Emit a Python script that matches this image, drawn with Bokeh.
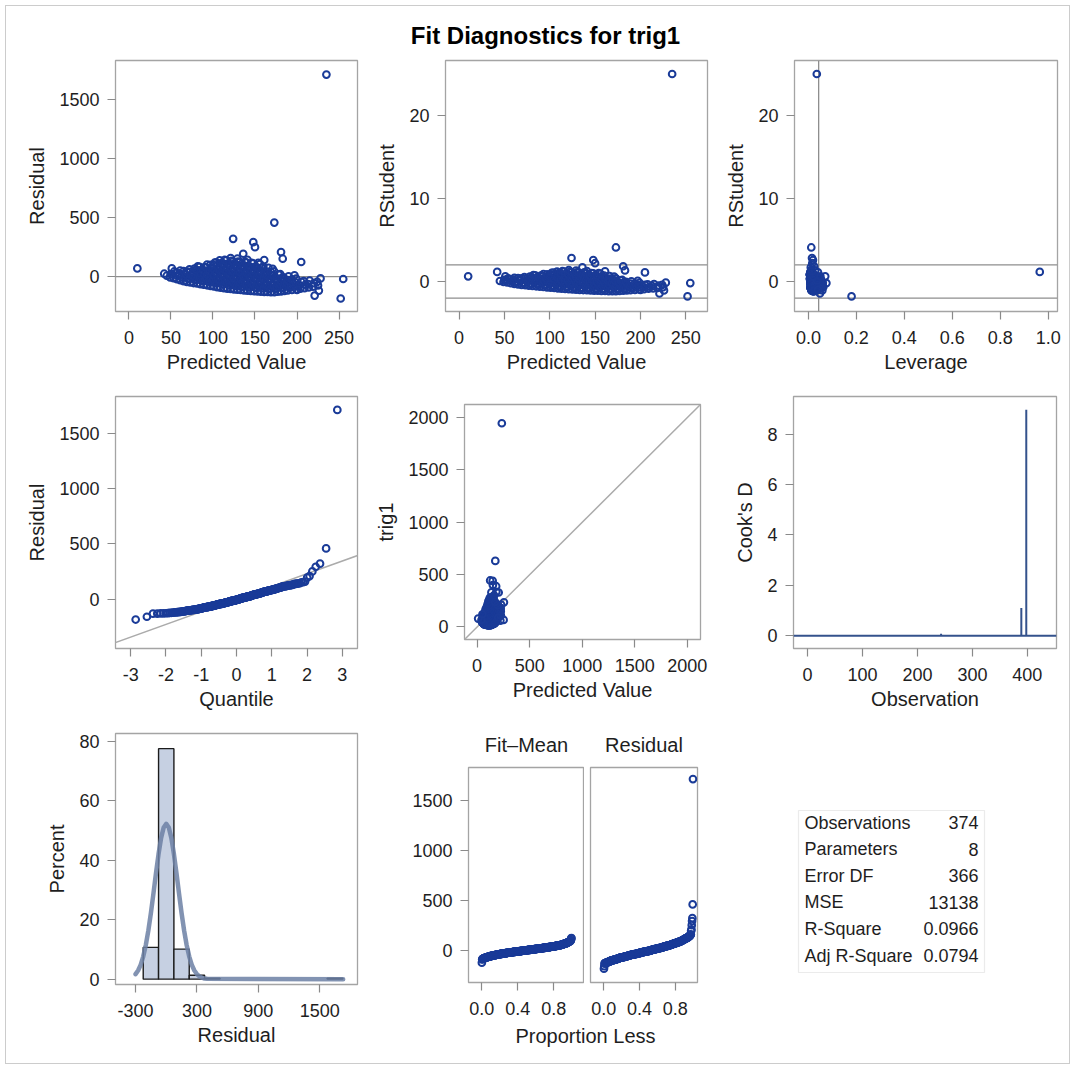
import math
from statistics import NormalDist
from bokeh.plotting import figure
from bokeh.layouts import row, column
from bokeh.models import Range1d, FixedTicker, PrintfTickFormatter, Span, Slope, BoxAnnotation
from bokeh.core.properties import value
from bokeh.embed import file_html
from bokeh.resources import INLINE

# ---------------- data ----------------
main_title = "Fit Diagnostics for trig1"

# observations (predicted value, residual, leverage); dense cloud then the stand-out points
pred = [
    45,
    49, 50,
    53, 52, 54,
    57, 58, 56,
    61, 62, 60, 61,
    65, 64, 66, 65,
    69, 70, 68, 69,
    73, 72, 74, 73, 72,
    77, 78, 76, 77, 78,
    81, 80, 82, 81, 80, 82,
    85, 86, 84, 85, 86, 84,
    89, 88, 90, 89, 88, 90,
    93, 94, 92, 93, 94, 92, 93,
    97, 96, 98, 97, 96, 98, 97,
    101, 102, 100, 101, 102, 100, 101, 102,
    105, 104, 106, 105, 104, 106, 105, 104,
    109, 110, 108, 109, 110, 108, 109, 110, 108,
    113, 112, 114, 113, 112, 114, 113, 112, 114,
    117, 118, 116, 117, 118, 116, 117, 118, 116,
    121, 120, 122, 121, 120, 122, 121, 120, 122, 121,
    125, 126, 124, 125, 126, 124, 125, 126, 124,
    129, 128, 130, 129, 128, 130, 129, 128, 130, 129,
    133, 134, 132, 133, 134, 132, 133, 134, 132,
    137, 136, 138, 137, 136, 138, 137, 136, 138,
    141, 142, 140, 141, 142, 140, 141, 142, 140, 141,
    145, 144, 146, 145, 144, 146, 145, 144, 146,
    149, 150, 148, 149, 150, 148, 149, 150, 148,
    153, 152, 154, 153, 152, 154, 153, 152, 154,
    157, 158, 156, 157, 158, 156, 157, 158, 156,
    161, 160, 162, 161, 160, 162, 161, 160,
    165, 166, 164, 165, 166, 164, 165, 166,
    169, 168, 170, 169, 168, 170, 169,
    173, 174, 172, 173, 174, 172, 173,
    177, 176, 178, 177, 176, 178,
    181, 182, 180, 181, 182, 180,
    185, 184, 186, 185, 184,
    189, 190, 188, 189, 190,
    194, 193, 195, 194,
    199, 200, 198, 199,
    204, 203, 205,
    209, 210, 208,
    214, 213, 215,
    219, 220,
    225, 224,
    235, 173, 124, 148, 150, 136, 181, 183, 205, 10, 255, 252, 221, 226, 228, 197, 171, 42, 51, 200, 161,
]
resid = [
    8,
    -6, 22,
    -12, 18, 44,
    -22, 6, 33,
    -30, -3, 27, 52,
    -38, -9, 22, 46,
    -44, -14, 16, 43,
    -49, -19, 11, 40, 62,
    -54, -24, 6, 36, 68,
    -58, -29, 2, 31, 60, 88,
    -64, -33, -4, 27, 56, 84,
    -68, -38, -8, 22, 52, 80,
    -73, -43, -12, 17, 48, 76, 102,
    -79, -48, -18, 13, 43, 72, 100,
    -83, -53, -22, 8, 38, 69, 97, 118,
    -88, -58, -27, 3, 33, 64, 92, 122,
    -93, -62, -32, -2, 28, 58, 88, 115, 138,
    -97, -67, -36, -6, 24, 54, 83, 112, 142,
    -101, -71, -40, -10, 20, 49, 79, 108, 137,
    -104, -74, -44, -14, 16, 46, 76, 104, 133, 158,
    -108, -78, -48, -18, 12, 42, 72, 101, 128,
    -111, -81, -51, -21, 9, 39, 68, 98, 127, 152,
    -113, -84, -54, -24, 6, 36, 66, 94, 124,
    -116, -86, -57, -27, 3, 33, 62, 92, 126,
    -118, -89, -59, -30, 0, 30, 59, 89, 118, 143,
    -121, -91, -62, -32, -3, 27, 56, 86, 116,
    -123, -94, -64, -35, -6, 24, 53, 83, 112,
    -125, -96, -67, -38, -8, 21, 50, 80, 117,
    -127, -98, -69, -40, -11, 18, 47, 77, 106,
    -129, -100, -71, -43, -14, 15, 44, 82,
    -130, -102, -73, -45, -16, 12, 41, 74,
    -132, -104, -75, -47, -19, 10, 38,
    -131, -102, -74, -45, -17, 11, 44,
    -128, -99, -71, -42, -14, 17,
    -124, -95, -67, -38, -10, 22,
    -120, -91, -62, -33, -5,
    -116, -87, -58, -29, 2,
    -112, -82, -53, -23,
    -107, -78, -48, -16,
    -102, -73, -43,
    -97, -68, -38,
    -92, -62, -33,
    -84, -54,
    -74, -44,
    1711, 458, 320, 292, 250, 194, 208, 152, 124, 70, -20, -185, -160, -118, -15, 11, 67, 25, 70, -112, 140,
]
lev = [
    0.051,
    0.048, 0.053,
    0.045, 0.047, 0.050,
    0.044, 0.046, 0.041,
    0.043, 0.040, 0.045, 0.038,
    0.041, 0.036, 0.039, 0.043,
    0.037, 0.034, 0.040, 0.035,
    0.035, 0.032, 0.036, 0.030, 0.033,
    0.031, 0.034, 0.029, 0.032, 0.028,
    0.030, 0.027, 0.031, 0.026, 0.029, 0.025,
    0.027, 0.024, 0.028, 0.023, 0.026, 0.022,
    0.025, 0.022, 0.026, 0.021, 0.024, 0.020,
    0.023, 0.020, 0.024, 0.019, 0.022, 0.018, 0.021,
    0.021, 0.018, 0.022, 0.017, 0.020, 0.016, 0.019,
    0.019, 0.016, 0.020, 0.015, 0.018, 0.014, 0.017, 0.013,
    0.018, 0.015, 0.019, 0.014, 0.017, 0.012, 0.016, 0.011,
    0.016, 0.013, 0.017, 0.012, 0.015, 0.011, 0.014, 0.010, 0.013,
    0.015, 0.012, 0.016, 0.011, 0.014, 0.010, 0.013, 0.009, 0.012,
    0.014, 0.011, 0.015, 0.010, 0.013, 0.009, 0.012, 0.008, 0.011,
    0.013, 0.010, 0.014, 0.009, 0.012, 0.008, 0.011, 0.007, 0.010, 0.012,
    0.012, 0.009, 0.013, 0.008, 0.011, 0.007, 0.010, 0.006, 0.009,
    0.012, 0.009, 0.013, 0.008, 0.011, 0.006, 0.010, 0.007, 0.009, 0.011,
    0.012, 0.009, 0.013, 0.008, 0.011, 0.007, 0.010, 0.006, 0.009,
    0.013, 0.010, 0.014, 0.009, 0.012, 0.008, 0.011, 0.007, 0.010,
    0.013, 0.010, 0.014, 0.009, 0.012, 0.008, 0.011, 0.007, 0.010, 0.012,
    0.014, 0.011, 0.015, 0.010, 0.013, 0.009, 0.012, 0.008, 0.011,
    0.015, 0.012, 0.016, 0.011, 0.014, 0.010, 0.013, 0.009, 0.012,
    0.016, 0.013, 0.017, 0.012, 0.015, 0.011, 0.014, 0.010, 0.013,
    0.017, 0.014, 0.018, 0.013, 0.016, 0.012, 0.015, 0.011, 0.014,
    0.018, 0.015, 0.019, 0.014, 0.017, 0.013, 0.016, 0.012,
    0.020, 0.017, 0.021, 0.016, 0.019, 0.015, 0.018, 0.014,
    0.021, 0.018, 0.022, 0.017, 0.020, 0.016, 0.019,
    0.023, 0.020, 0.024, 0.019, 0.022, 0.018, 0.021,
    0.025, 0.022, 0.026, 0.021, 0.024, 0.020,
    0.027, 0.024, 0.028, 0.023, 0.026, 0.022,
    0.029, 0.026, 0.030, 0.025, 0.028,
    0.031, 0.028, 0.032, 0.027, 0.030,
    0.034, 0.031, 0.035, 0.030,
    0.037, 0.034, 0.038, 0.033,
    0.041, 0.038, 0.042,
    0.045, 0.042, 0.046,
    0.050, 0.047, 0.051,
    0.056, 0.053,
    0.062, 0.059,
    0.035, 0.012, 0.015, 0.019, 0.016, 0.010, 0.024, 0.028, 0.040, 0.070, 0.075, 0.180, 0.048, 0.058, 0.060, 0.036, 0.020, 0.965, 0.050, 0.040, 0.015,
]

# Cook's D needles (observation number, value)
cook_obs = [5, 38, 71, 104, 140, 177, 212, 243, 276, 311, 347, 372, 389, 398]
cook_d = [0.01, 0.02, 0.01, 0.02, 0.01, 0.02, 0.01, 0.08, 0.02, 0.01, 0.02, 0.03, 1.10, 8.96]

# residual histogram (bin midpoints, percent) and the overlaid density curve
hist_mid = [-150, 0, 150, 300, 450, 1650]
hist_pct = [10.7, 77.5, 10.1, 1.3, 0.3, 0.3]
bin_width = 150
curve_x = [-300, -275, -250, -225, -200, -175, -150, -125, -100, -75, -50, -25, 0, 25, 50,
           75, 100, 125, 150, 175, 200, 225, 250, 275, 300, 325, 350, 375, 400, 1730]
curve_pct = [1.7, 2.9, 4.8, 7.6, 11.4, 16.3, 22.2, 28.8, 35.7, 42.1, 47.5, 51.0, 52.2, 51.0, 47.5,
             42.1, 35.7, 28.8, 22.2, 16.3, 11.4, 7.6, 4.8, 2.9, 1.7, 0.9, 0.5, 0.2, 0.1, 0.0]

# fit statistics table
stat_labels = ["Observations", "Parameters", "Error DF", "MSE", "R-Square", "Adj R-Square"]
stat_values = ["374", "8", "366", "13138", "0.0966", "0.0794"]

# tick values
ticks_pred = [0, 50, 100, 150, 200, 250]
ticks_resid = [0, 500, 1000, 1500]
ticks_rstud = [0, 10, 20]
ticks_lev = [0.0, 0.2, 0.4, 0.6, 0.8, 1.0]
ticks_quant = [-3, -2, -1, 0, 1, 2, 3]
ticks_obsd = [0, 500, 1000, 1500, 2000]
ticks_obsnum = [0, 100, 200, 300, 400]
ticks_cook = [0, 2, 4, 6, 8]
ticks_hist_x = [-300, 300, 900, 1500]
ticks_pct = [0, 20, 40, 60, 80]
ticks_prop = [0.0, 0.4, 0.8]

# ---------------- derived statistics ----------------
n_obs = int(stat_values[0])
n_par = int(stat_values[1])
err_df = int(stat_values[2])
mse = float(stat_values[3])
rmse = math.sqrt(mse)

rstud = []
for e, h in zip(resid, lev):
    s2 = (err_df * mse - e * e / (1 - h)) / (err_df - 1)
    rstud.append(e / math.sqrt(s2 * (1 - h)))
observed = [p + e for p, e in zip(pred, resid)]
n = len(resid)
nd = NormalDist()
res_sorted = sorted(resid)
qq_x = [nd.inv_cdf((i + 1 - 0.375) / (n + 0.25)) for i in range(n)]
prop = [(i + 0.5) / n for i in range(n)]
mean_pred = sum(pred) / n
fit_mean = sorted(p - mean_pred for p in pred)

# ---------------- styling ----------------
FONT = "Liberation Sans"
TXT = "#1e1e1e"
FRAME = "#a4a4a4"
TICK = "#8a8a8a"
REF = "#8e8e8e"
LIGHTREF = "#ababab"
MARK = "#1a3b98"


def panel(xr, yr, bl, fw, br, bt, fh, bb, xlabel, ylabel, xt, yt, xf="%d", yf="%d", title=None):
    p = figure(frame_width=fw, frame_height=fh, min_border_left=bl, min_border_right=br,
               min_border_top=bt, min_border_bottom=bb, x_range=Range1d(*xr), y_range=Range1d(*yr),
               output_backend="svg", toolbar_location=None, tools="", title=title)
    p.grid.visible = False
    p.outline_line_color = FRAME
    p.outline_line_width = 1.3
    p.background_fill_color = "white"
    p.border_fill_color = None
    for ax, lab, ticks, fmt in ((p.xaxis[0], xlabel, xt, xf), (p.yaxis[0], ylabel, yt, yf)):
        ax.ticker = FixedTicker(ticks=ticks)
        ax.formatter = PrintfTickFormatter(format=fmt)
        ax.axis_label = lab
        ax.axis_line_color = None
        ax.major_tick_line_color = TICK
        ax.major_tick_line_width = 1.2
        ax.major_tick_out = 8
        ax.major_tick_in = 0
        ax.minor_tick_line_color = None
        ax.major_label_text_font = FONT
        ax.major_label_text_font_size = "18px"
        ax.major_label_text_color = TXT
        ax.axis_label_text_font = FONT
        ax.axis_label_text_font_size = "20px"
        ax.axis_label_text_font_style = "normal"
        ax.axis_label_text_color = TXT
    p.xaxis[0].major_label_standoff = 11
    p.yaxis[0].major_label_standoff = 8
    p.xaxis[0].axis_label_standoff = 4
    p.yaxis[0].axis_label_standoff = 8
    if title is not None:
        p.title.align = "center"
        p.title.text_font = FONT
        p.title.text_font_size = "20px"
        p.title.text_font_style = "normal"
        p.title.text_color = TXT
        p.title.standoff = 23
    return p


def blank(w, h, xr, yr):
    p = figure(frame_width=w, frame_height=h, min_border=0, x_range=Range1d(*xr), y_range=Range1d(*yr),
               x_axis_type=None, y_axis_type=None, output_backend="svg", toolbar_location=None, tools="")
    p.outline_line_color = None
    p.background_fill_color = None
    p.border_fill_color = None
    p.grid.visible = False
    return p


def rings(p, x, y):
    p.scatter(x, y, marker="circle", size=6.7, fill_color=None, line_color=MARK, line_width=2)


# ---- title ----
tfig = blank(1074, 50, (0, 1074), (50, 0))
tfig.text(x=[545], y=[35], text=[main_title], text_font=value(FONT), text_font_size="24px",
          text_font_style="bold", text_align="center", text_baseline="middle", text_color="#000000")

# ---- row 1 ----
p1 = panel((-16, 272), (-295, 1830), 115, 242, 15, 10, 251, 71, "Predicted Value", "Residual",
           ticks_pred, ticks_resid)
p1.add_layout(Span(location=0, dimension="width", line_color=REF, line_width=1.3, level="underlay"))
rings(p1, pred, resid)

p2 = panel((-15, 274), (-3.6, 26.6), 73, 262, 15, 10, 251, 71, "Predicted Value", "RStudent",
           ticks_pred, ticks_rstud)
for loc in (-2, 2):
    p2.add_layout(Span(location=loc, dimension="width", line_color=REF, line_width=1.3, level="underlay"))
rings(p2, pred, rstud)

p3 = panel((-0.058, 1.039), (-3.6, 26.6), 71, 263, 18, 10, 251, 71, "Leverage", "RStudent",
           ticks_lev, ticks_rstud, xf="%.1f")
for loc in (-2, 2):
    p3.add_layout(Span(location=loc, dimension="width", line_color=REF, line_width=1.3, level="underlay"))
p3.add_layout(Span(location=2 * n_par / n_obs, dimension="height", line_color=REF, line_width=1.3,
                   level="underlay"))
rings(p3, lev, rstud)

# ---- row 2 ----
p4 = panel((-3.43, 3.43), (-447, 1832), 115, 242, 15, 14, 252, 70, "Quantile", "Residual",
           ticks_quant, ticks_resid)
p4.add_layout(Slope(gradient=rmse, y_intercept=0, line_color=LIGHTREF, line_width=1.5, level="underlay"))
rings(p4, qq_x, res_sorted)

p5 = panel((-120, 2125), (-120, 2125), 92, 236, 22, 22, 235, 79, "Predicted Value", "trig1",
           ticks_obsd, ticks_obsd)
p5.add_layout(Slope(gradient=1, y_intercept=0, line_color=LIGHTREF, line_width=1.5, level="underlay"))
rings(p5, pred, observed)

p6 = panel((-25.5, 453), (-0.51, 9.49), 71, 263, 18, 14, 252, 70, "Observation", "Cook's D",
           ticks_obsnum, ticks_cook)
p6.add_layout(Span(location=0, dimension="width", line_color="#34528c", line_width=2))
p6.segment(x0=cook_obs, y0=[0] * len(cook_obs), x1=cook_obs, y1=cook_d, line_color="#34528c",
           line_width=2)

# ---- row 3 ----
p7 = panel((-496, 1870), (-1.8, 82.6), 115, 242, 15, 15, 251, 85, "Residual", "Percent",
           ticks_hist_x, ticks_pct)
p7.quad(left=[m - bin_width / 2 for m in hist_mid], right=[m + bin_width / 2 for m in hist_mid],
        top=hist_pct, bottom=0, fill_color="#c6d0e2", line_color="#1c1c1c", line_width=1.4)
p7.line(curve_x, curve_pct, line_color="#6c80a5", line_width=4.5, line_alpha=0.85,
        line_join="round", line_cap="round")

p8a = panel((-0.147, 1.143), (-323, 1827), 96, 116, 0, 49, 215, 40, None, None,
            ticks_prop, ticks_resid, xf="%.1f", title="Fit\u2013Mean")
rings(p8a, prop, fit_mean)
p8b = panel((-0.149, 1.049), (-323, 1827), 6, 107, 25, 49, 215, 40, None, None,
            ticks_prop, ticks_resid, xf="%.1f", title="Residual")
p8b.yaxis[0].visible = False
rings(p8b, prop, res_sorted)

lab8 = blank(350, 47, (372, 722), (1069, 1022))
lab8.text(x=[585], y=[1035], text=["Proportion Less"], text_font=value(FONT), text_font_size="20px",
          text_align="center", text_baseline="middle", text_color=TXT)

tab = blank(352, 351, (722, 1074), (1069, 718))
tab.add_layout(BoxAnnotation(left=798, right=984, top=810, bottom=972, fill_color=None,
                             line_color="#bdbdbd", line_width=1.2))
row_y = [822 + 26.6 * i for i in range(len(stat_labels))]
tab.text(x=[804] * len(stat_labels), y=row_y, text=stat_labels, text_font=value(FONT),
         text_font_size="18px", text_align="left", text_baseline="middle", text_color=TXT)
tab.text(x=[978] * len(stat_values), y=row_y, text=stat_values, text_font=value(FONT),
         text_font_size="18px", text_align="right", text_baseline="middle", text_color=TXT)

layout = column(
    tfig,
    row(p1, p2, p3),
    row(column(p4), column(p5), column(p6)),
    row(column(p7), column(row(p8a, p8b), lab8), column(tab)),
    styles={"outline": "1px solid #cccccc", "outline-offset": "-6px"},
)

open("out.html", "w").write(file_html(layout, INLINE, main_title))
